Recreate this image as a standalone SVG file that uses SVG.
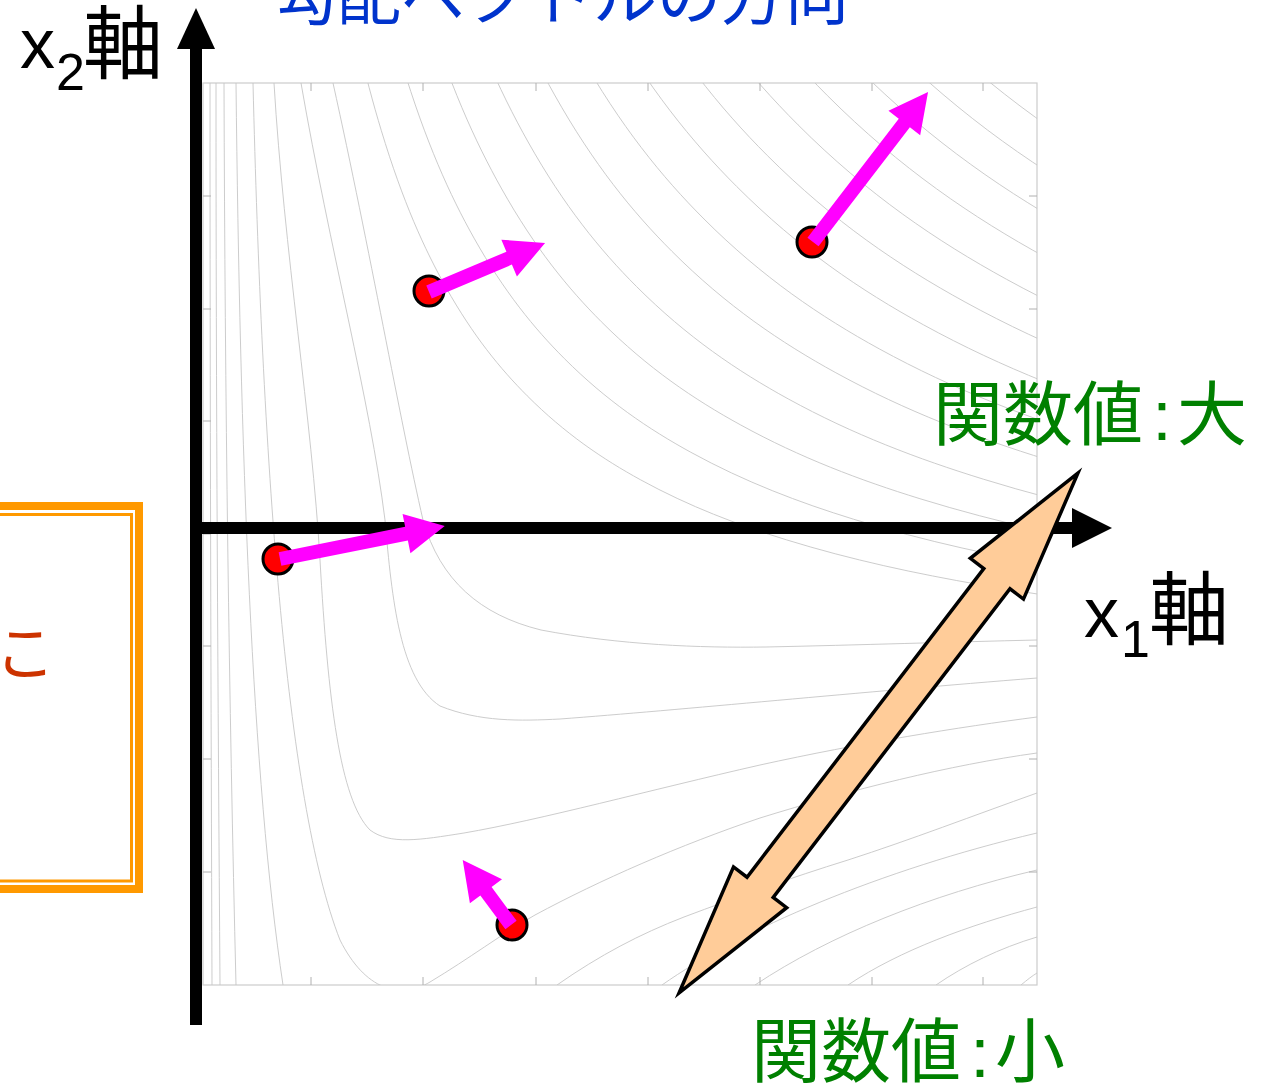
<svg xmlns="http://www.w3.org/2000/svg" xmlns:xlink="http://www.w3.org/1999/xlink" width="1267" height="1083" viewBox="0 0 1267 1083">
<style>
.ct{fill:none;stroke:#c6c6c6;stroke-width:0.9}
.hy{fill:none;stroke:#c6c6c6}
.tk{stroke:#b0b0b0;stroke-width:1}
.lat{font-family:"Liberation Sans","Noto Sans CJK JP",sans-serif}
.cjk{font-family:"Noto Sans CJK JP","Noto Sans CJK SC",sans-serif}
.grad{fill:#FF00FF}
.pt{fill:#FF0000;stroke:#000;stroke-width:3}
.green{fill:#008000;font-size:70px}
</style>
<defs>
<clipPath id="plotClip"><rect x="203" y="83" width="834" height="902"/></clipPath>
<path id="hyp" d="M22,454.55 C24.667,399.44 27.333,362.96 30,333.33 C33.333,296.30 36.667,270.83 40,250 C45,218.75 50,198.35 55,181.82 C61.667,159.78 68.333,145.19 75,133.33 C83.333,118.52 91.667,108.33 100,100 C111.667,88.33 123.333,80.47 135,74.07 C150,65.84 165,60.19 180,55.56 C200,49.39 220,45.14 240,41.67 C266.667,37.04 293.333,33.85 320,31.25 C353.333,27.99 386.667,25.70 420,23.81"/>
</defs>

<g id="plot">
<rect x="203" y="83" width="834" height="902" fill="#fff" stroke="#cccccc" stroke-width="1.2"/>
<g id="contours" clip-path="url(#plotClip)">
<path class="ct" d="M210,83 C210,400 211,700 212,985"/>
<path class="ct" d="M216,83 C216,400 218,700 220,985"/>
<path class="ct" d="M224,83 C225,400 229,700 236,985"/>
<path class="ct" d="M236,83 C240,450 252,780 283,985"/>
<path class="ct" d="M253,83 C262,450 285,800 340,940 C365,990 400,1000 430,982 C470,958 500,935 535,915 C600,880 680,845 760,818 C850,790 950,765 1037,753"/>
<path class="ct" d="M274,83 C284,250 312,420 320,560 C328,700 340,800 370,830 C390,845 420,840 464,833 C540,820 650,790 760,765 C860,743 960,727 1037,717"/>
<path class="ct" d="M301,83 C330,250 370,400 385,520 C392,600 400,680 440,706 C480,722 520,721 560,719 C680,710 860,692 1037,678"/>
<path class="ct" d="M333,83 C370,250 400,420 423,520 C440,580 480,615 541,630 C620,645 700,648 766,647 C860,645 950,642 1037,640"/>
<path class="ct" d="M557,985 C600,955 640,934 684,917 C740,896 790,878 848,860 C910,840 975,815 1037,793"/>
<path class="ct" d="M662,985 C740,930 880,870 1037,833"/>
<path class="ct" d="M755,985 C830,935 930,895 1037,870"/>
<path class="ct" d="M848,985 C900,950 970,925 1037,907"/>
<path class="ct" d="M936,985 C965,965 1000,948 1037,937"/>
<path class="ct" d="M1021,985 C1027,980 1032,976 1037,973"/>
<use xlink:href="#hyp" class="hy" transform="translate(203,720) scale(3.242,-3.242)" stroke-width="0.278"/>
<use xlink:href="#hyp" class="hy" transform="translate(203,720) scale(3.614,-3.614)" stroke-width="0.249"/>
<use xlink:href="#hyp" class="hy" transform="translate(203,720) scale(3.983,-3.983)" stroke-width="0.226"/>
<use xlink:href="#hyp" class="hy" transform="translate(203,720) scale(4.335,-4.335)" stroke-width="0.208"/>
<use xlink:href="#hyp" class="hy" transform="translate(203,720) scale(4.688,-4.688)" stroke-width="0.192"/>
<use xlink:href="#hyp" class="hy" transform="translate(203,720) scale(5.010,-5.010)" stroke-width="0.180"/>
<use xlink:href="#hyp" class="hy" transform="translate(203,720) scale(5.336,-5.336)" stroke-width="0.169"/>
<use xlink:href="#hyp" class="hy" transform="translate(203,720) scale(5.644,-5.644)" stroke-width="0.159"/>
<use xlink:href="#hyp" class="hy" transform="translate(203,720) scale(5.951,-5.951)" stroke-width="0.151"/>
<use xlink:href="#hyp" class="hy" transform="translate(203,720) scale(6.244,-6.244)" stroke-width="0.144"/>
<use xlink:href="#hyp" class="hy" transform="translate(203,720) scale(6.533,-6.533)" stroke-width="0.138"/>
<use xlink:href="#hyp" class="hy" transform="translate(203,720) scale(6.805,-6.805)" stroke-width="0.132"/>
<use xlink:href="#hyp" class="hy" transform="translate(203,720) scale(7.085,-7.085)" stroke-width="0.127"/>
</g>
<g id="ticks" class="tk">
<path d="M311,83v8M423,83v8M536,83v8M648,83v8M760,83v8M872,83v8M983,83v8"/>
<path d="M311,985v-8M423,985v-8M536,985v-8M648,985v-8M760,985v-8M872,985v-8M983,985v-8"/>
<path d="M203,196h8M203,309h8M203,421h8M203,534h8M203,646h8M203,759h8M203,872h8"/>
<path d="M1037,196h-8M1037,309h-8M1037,421h-8M1037,534h-8M1037,646h-8M1037,759h-8M1037,872h-8"/>
</g>
</g>

<g id="title">
<text class="cjk" x="273" y="19" font-size="64" fill="#0033CC">勾配ベクトルの方向</text>
</g>

<g id="note-box">
<rect x="-30" y="506" width="169" height="383" fill="#fff" stroke="#FF9900" stroke-width="8"/>
<rect x="-30" y="514.5" width="161.5" height="366.5" fill="none" stroke="#FF9900" stroke-width="3"/>
<text class="cjk" x="-5" y="675" font-size="60" fill="#CC3300">こ</text>
</g>

<g id="axes">
<g id="x2-axis">
<line x1="196" y1="46" x2="196" y2="1025" stroke="#000" stroke-width="12"/>
<polygon points="196,8 177,49 215,49" fill="#000"/>
<text class="lat" x="20" y="68" font-size="70">x</text>
<text class="lat" x="56" y="90" font-size="52">2</text>
<text class="cjk" x="83" y="72" font-size="80">軸</text>
</g>
<g id="x1-axis">
<line x1="190" y1="528" x2="1075" y2="528" stroke="#000" stroke-width="12"/>
<polygon points="1112,528 1072,508 1072,548" fill="#000"/>
<text class="lat" x="1084" y="637" font-size="70">x</text>
<text class="lat" x="1121" y="657" font-size="52">1</text>
<text class="cjk" x="1149" y="638" font-size="80">軸</text>
</g>
</g>

<g id="points">
<g id="p1"><circle class="pt" cx="812" cy="242" r="15"/><path class="grad" transform="translate(813,242) rotate(-52.5)" d="M0,-7 H150 V-20 L189,0 L150,20 V7 H0 Z"/></g>
<g id="p2"><circle class="pt" cx="429" cy="291" r="15"/><path class="grad" transform="translate(429,292) rotate(-22.9)" d="M0,-7 H87 V-20 L126,0 L87,20 V7 H0 Z"/></g>
<g id="p3"><circle class="pt" cx="278" cy="559" r="15"/><path class="grad" transform="translate(280,559) rotate(-11.3)" d="M0,-7 H129 V-20 L168,0 L129,20 V7 H0 Z"/></g>
<g id="p4"><circle class="pt" cx="512" cy="925" r="15"/><path class="grad" transform="translate(511,925) rotate(-126.6)" d="M0,-7 H42 V-20 L81,0 L42,20 V7 H0 Z"/></g>
</g>

<g id="value-arrow">
<path transform="translate(878.5,733) rotate(-52.5)" d="M327.5,0 L194.5,-33.5 L194.5,-16.5 L-194.5,-16.5 L-194.5,-33.5 L-327.5,0 L-194.5,33.5 L-194.5,16.5 L194.5,16.5 L194.5,33.5 Z" fill="#FFCC99" stroke="#000" stroke-width="3.5" stroke-linejoin="miter" stroke-miterlimit="10"/>
</g>

<g id="label-large">
<text class="cjk green" x="933" y="440">関数値</text>
<text class="lat green" x="1162" y="440" text-anchor="middle">:</text>
<text class="cjk green" x="1177" y="440">大</text>
</g>
<g id="label-small">
<text class="cjk green" x="751" y="1077">関数値</text>
<text class="lat green" x="980" y="1077" text-anchor="middle">:</text>
<text class="cjk green" x="995" y="1077">小</text>
</g>
</svg>
